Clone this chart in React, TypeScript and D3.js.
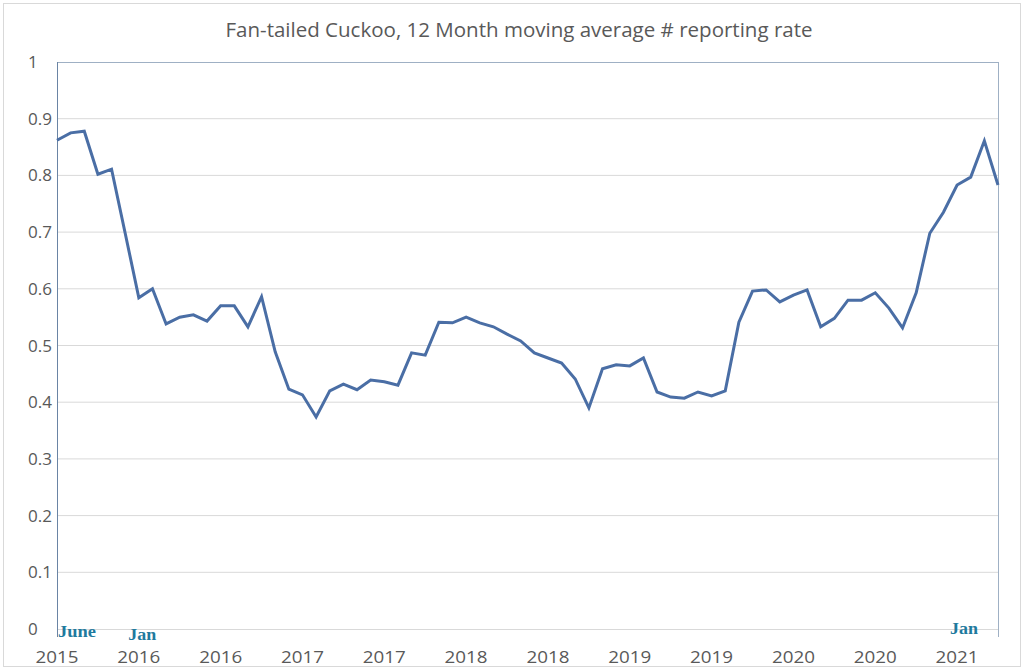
import React from "react";
import * as d3 from "d3";

const values: number[] = [
  0.862, 0.875, 0.878, 0.802, 0.811, 0.698, 0.584, 0.6, 0.538, 0.55,
  0.554, 0.543, 0.57, 0.57, 0.533, 0.586, 0.489, 0.423, 0.413, 0.374,
  0.42, 0.432, 0.422, 0.439, 0.436, 0.43, 0.487, 0.483, 0.541, 0.54,
  0.55, 0.54, 0.533, 0.52, 0.508, 0.487, 0.478, 0.469, 0.441, 0.39,
  0.459, 0.466, 0.464, 0.478, 0.418, 0.409, 0.407, 0.418, 0.411, 0.42,
  0.541, 0.596, 0.598, 0.577, 0.589, 0.598, 0.533, 0.548, 0.58, 0.58,
  0.593, 0.566, 0.531, 0.593, 0.698, 0.735, 0.783, 0.797, 0.861, 0.783,
];

const xTickLabels: string[] = [
  "2015", "2016", "2016", "2017", "2017", "2018",
  "2018", "2019", "2019", "2020", "2020", "2021",
];
const xTickEvery = 6;

const yTicks: number[] = [0, 0.1, 0.2, 0.3, 0.4, 0.5, 0.6, 0.7, 0.8, 0.9, 1];

const annotations: { idx: number; text: string; dx: number; dy: number }[] = [
  { idx: 0, text: "June", dx: 1, dy: 8 },
  { idx: 5, text: "Jan", dx: 3, dy: 11 },
  { idx: 66, text: "Jan", dx: -7, dy: 5 },
];

const title = "Fan-tailed Cuckoo, 12 Month moving average # reporting rate";

export default function App() {
  const W = 1024;
  const H = 670;
  const left = 57;
  const right = 998;
  const top = 62;
  const bottom = 629;

  const x = d3.scaleLinear().domain([0, values.length - 1]).range([left, right]);
  const y = d3.scaleLinear().domain([0, 1]).range([bottom, top]);

  const line = d3
    .line<number>()
    .x((_, i) => x(i))
    .y((d) => y(d));

  const font = "'Open Sans', 'Noto Sans', sans-serif";
  const textColor = "#595959";

  return (
    <svg
      width={W}
      height={H}
      style={{ position: "absolute", left: 0, top: 0, background: "#fff" }}
    >
      <rect x={3.5} y={3.5} width={1017} height={663} fill="#fff" stroke="#d9d9d9" />
      <text
        x={519}
        y={37}
        textAnchor="middle"
        fontFamily={font}
        fontSize={20}
        fill={textColor}
        textLength={587}
        lengthAdjust="spacingAndGlyphs"
      >
        {title}
      </text>

      {yTicks.map((t) => (
        <g key={t}>
          {t > 0 && t < 1 && (
            <line x1={left} x2={right} y1={y(t)} y2={y(t)} stroke="#d9d9d9" strokeWidth={1} />
          )}
          <text
            x={28}
            y={y(t) + 6}
            fontFamily={font}
            fontSize={17}
            fill={textColor}
            textLength={t === 0 || t === 1 ? undefined : 24}
            lengthAdjust="spacingAndGlyphs"
          >
            {d3.format("~g")(t)}
          </text>
        </g>
      ))}

      <line x1={left} x2={right} y1={bottom + 0.5} y2={bottom + 0.5} stroke="#d9d9d9" />
      <line x1={left} x2={right} y1={top + 0.5} y2={top + 0.5} stroke="#9fb0c4" />
      <line x1={right + 0.5} x2={right + 0.5} y1={top} y2={bottom + 8} stroke="#9fb0c4" />
      <line x1={left + 0.5} x2={left + 0.5} y1={top} y2={bottom + 8} stroke="#6a84a4" />

      <path d={line(values) || ""} fill="none" stroke="#4a6ea5" strokeWidth={3} strokeLinejoin="miter" />

      {xTickLabels.map((lab, i) => (
        <text
          key={i}
          x={x(i * xTickEvery)}
          y={663}
          textAnchor="middle"
          fontFamily={font}
          fontSize={17}
          fill={textColor}
          textLength={43}
          lengthAdjust="spacingAndGlyphs"
        >
          {lab}
        </text>
      ))}

      {annotations.map((a, i) => (
        <text
          key={i}
          x={x(a.idx) + a.dx}
          y={y(0) + a.dy}
          fontFamily="'Liberation Serif', 'DejaVu Serif', serif"
          fontWeight="bold"
          fontSize={17}
          fill="#1f7a9e"
          textLength={a.text === "June" ? 38 : 28}
          lengthAdjust="spacingAndGlyphs"
        >
          {a.text}
        </text>
      ))}
    </svg>
  );
}
